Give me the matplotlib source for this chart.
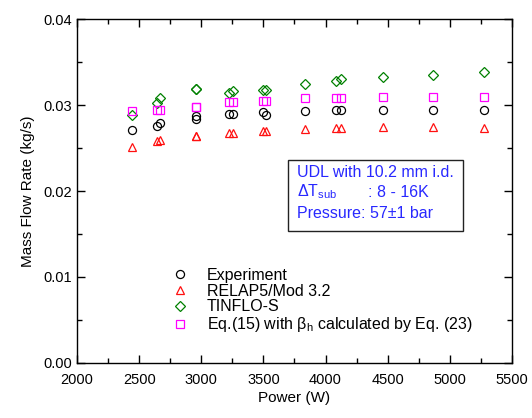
import numpy as np
import matplotlib.pyplot as plt
from matplotlib.patches import Rectangle
from matplotlib.ticker import MultipleLocator, FormatStrFormatter

plt.rcParams['font.family'] = ['Liberation Sans', 'DejaVu Sans']
plt.rcParams['mathtext.fontset'] = 'custom'
plt.rcParams['mathtext.rm'] = 'Liberation Sans'
plt.rcParams['mathtext.it'] = 'Liberation Sans'

power = [2440, 2645, 2665, 2955, 2960, 3225, 3255, 3495, 3520, 3835, 4085, 4125, 4460, 4865, 5275]

experiment = [0.0271, 0.0276, 0.0279, 0.0287, 0.0284, 0.0290, 0.0290, 0.0292, 0.0288,
              0.0293, 0.0294, 0.0294, 0.0294, 0.0294, 0.0294]
relap5 = [0.0251, 0.0258, 0.0259, 0.0264, 0.0264, 0.0268, 0.0268, 0.0270, 0.0270,
          0.0272, 0.0273, 0.0273, 0.0274, 0.0274, 0.0273]
tinflo = [0.0288, 0.0302, 0.0308, 0.0319, 0.0319, 0.0314, 0.0316, 0.0317, 0.0318,
          0.0324, 0.0328, 0.0330, 0.0332, 0.0335, 0.0338]
eq15 = [0.0293, 0.0294, 0.0294, 0.0298, 0.0298, 0.0304, 0.0304, 0.0305, 0.0305,
        0.0308, 0.0308, 0.0308, 0.0309, 0.0309, 0.0309]

fig = plt.figure(figsize=(5.32, 4.18), dpi=100)
ax = fig.add_axes([0.1447, 0.1316, 0.8177, 0.8229])

ms = 5.8
ax.plot(power, experiment, 'o', mfc='none', mec='black', ms=ms, mew=0.9, label='Experiment')
ax.plot(power, relap5, '^', mfc='none', mec='#ff1010', ms=ms + 0.6, mew=0.9, label='RELAP5/Mod 3.2')
ax.plot(power, tinflo, 'D', mfc='none', mec='#008000', ms=ms - 0.4, mew=0.9, label='TINFLO-S')
ax.plot(power, eq15, 's', mfc='none', mec='#ff00ff', ms=ms - 0.6, mew=0.9,
        label=r'Eq.(15) with $\beta_{\rm h}$ calculated by Eq. (23)')

ax.set_xlim(2000, 5500)
ax.set_ylim(0.0, 0.04)
ax.xaxis.set_major_locator(MultipleLocator(500))
ax.xaxis.set_minor_locator(MultipleLocator(250))
ax.yaxis.set_major_locator(MultipleLocator(0.01))
ax.yaxis.set_minor_locator(MultipleLocator(0.005))
ax.yaxis.set_major_formatter(FormatStrFormatter('%.2f'))
ax.tick_params(which='both', direction='in', top=True, right=True, labelsize=10.5, width=1.0)
ax.tick_params(which='major', length=6)
ax.tick_params(which='minor', length=3.5)
ax.tick_params(axis='x', pad=7)
for s in ax.spines.values():
    s.set_linewidth(1.0)

ax.set_xlabel('Power (W)', fontsize=11, labelpad=3)
ax.set_ylabel('Mass Flow Rate (kg/s)', fontsize=11, labelpad=6)

ax.legend(loc='lower left', bbox_to_anchor=(0.2, 0.065), frameon=False, fontsize=11.5,
          handletextpad=1.1, labelspacing=0.05, handlelength=1.2, borderaxespad=0)

blue = '#2828ff'
ax.add_patch(Rectangle((0.485, 0.384), 0.402, 0.206, transform=ax.transAxes,
                       fill=False, edgecolor='#222222', lw=1.0))
ax.text(0.506, 0.555, 'UDL with 10.2 mm i.d.', transform=ax.transAxes, color=blue,
        fontsize=11.5, va='center')
ax.text(0.506, 0.497, r'$\Delta$T$_{\rm sub}$', transform=ax.transAxes, color=blue,
        fontsize=11.5, va='center')
ax.text(0.670, 0.497, ': 8 - 16K', transform=ax.transAxes, color=blue,
        fontsize=11.5, va='center')
ax.text(0.506, 0.435, 'Pressure: 57\u00b11 bar', transform=ax.transAxes, color=blue,
        fontsize=11.5, va='center')

fig.savefig('out.png', dpi=100)
